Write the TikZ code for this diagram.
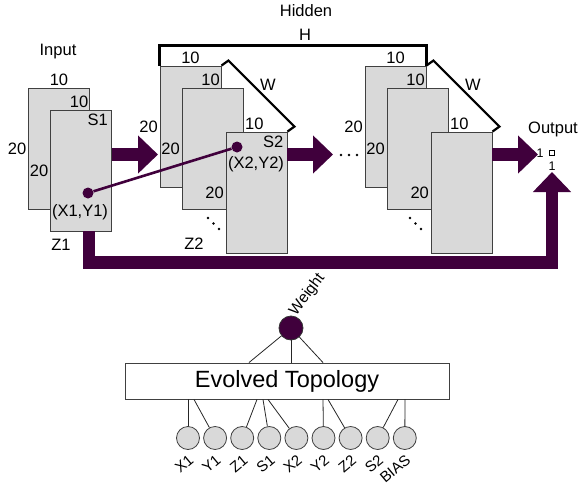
\documentclass[tikz,border=0pt]{standalone}
\usepackage{fontspec}
\setmainfont{Liberation Sans}
\usetikzlibrary{arrows.meta,positioning}
\definecolor{plum}{HTML}{40003C}
\definecolor{sheet}{HTML}{D9D9D9}

\begin{document}
\begin{tikzpicture}[x=1pt, y=-1pt,
	every node/.style={font=\fontsize{16.5}{18}\selectfont, inner sep=1.5pt},
	panel/.style={draw=black!75, fill=sheet, line width=0.9pt, minimum width=61pt, minimum height=121pt, inner sep=0pt},
	fatarrow/.style={draw=plum, line width=12.5pt, line join=miter, -{Triangle[length=20pt,width=37pt]}},
	bracket/.style={line width=2.2pt, line join=miter},
	feat/.style={circle, draw=black!75, fill=sheet, line width=0.8pt, minimum size=23pt, inner sep=0pt},
	tag/.style={font=\fontsize{15}{16}\selectfont, rotate=40, anchor=north east, inner sep=0.5pt},
	wire/.style={line width=0.8pt, black!85}]
	\useasboundingbox (0,0) rectangle (579,485);
	
	% 1. input and hidden sheets
	\node[panel] (in1) at (59,148.5) {};
	\node[panel] (in2) at (81,170.5) {};
	\node[panel] (h1) at (190.5,126.5) {};
	\node[panel] (h2) at (212.5,148.5) {};
	\node[panel] (h3) at (256.5,192.5) {};
	\node[panel] (g1) at (395.5,126.5) {};
	\node[panel] (g2) at (417.5,148.5) {};
	\node[panel] (g3) at (461.5,192.5) {};
	
	% 2. thick arrows
	\coordinate (a1) at (158,154.5);
	\coordinate (a2) at (333,154.5);
	\coordinate (a3) at (538,154.5);
	\coordinate (fb) at (552,172);
	\draw[fatarrow] (in2.east |- a1) -- (a1);
	\draw[fatarrow] (h3.east |- a2) -- (a2);
	\draw[fatarrow] (g3.east |- a3) -- (a3);
	\draw[fatarrow] ([xshift=8pt]in2.south) -- ++(0,31) -| (fb);
	
	% 3. brackets H and W
	\draw[bracket] (h1.north west) -- ++(0,-20) -| (g1.north east);
	\draw[bracket] (h1.north east) -- ++(7,-5) -- ([shift={(7,-5)}]h3.north east) -- (h3.north east);
	\draw[bracket] (g1.north east) -- ++(7,-5) -- ([shift={(7,-5)}]g3.north east) -- (g3.north east);
	
	% 4. link between the two neurons
	\node[circle, fill=plum, minimum size=11pt, inner sep=0pt] (p1) at (88,193) {};
	\node[circle, fill=plum, minimum size=11pt, inner sep=0pt] (p2) at (237,147) {};
	\draw[plum, line width=2.6pt] (p1) -- (p2);
	
	% 5. titles
	\node at (58,52) {Input};
	\node at (306,11) {Hidden};
	\node at (305,35) {H};
	\node at (553,129) {Output};
	\node at (268,85) {W};
	\node at (473,85) {W};
	
	% 6. sizes and names
	\node[above] at (in1.north) {10};
	\node[anchor=south east] at (in1.east |- in2.north) {10};
	\node[left] at (in1.west) {20};
	\node[left] at (in2.west) {20};
	\node[anchor=north east, inner sep=4pt] at (in2.north east) {S1};
	\node at (80,212) {(X1,Y1)};
	\node at (61,245) {Z1};
	
	\node[above] at (h1.north) {10};
	\node[anchor=south east] at (h1.east |- h2.north) {10};
	\node[anchor=south west] at (h2.east |- h3.north) {10};
	\node[left] at (h1.west) {20};
	\node[left] at (h2.west) {20};
	\node[left] at (h3.west) {20};
	\node[anchor=north east, inner sep=4pt] at (h3.north east) {S2};
	\node at (256,164) {(X2,Y2)};
	\node at (194,244) {Z2};
	
	\node[above] at (g1.north) {10};
	\node[anchor=south east] at (g1.east |- g2.north) {10};
	\node[anchor=south west] at (g2.east |- g3.north) {10};
	\node[left] at (g1.west) {20};
	\node[left] at (g2.west) {20};
	\node[left] at (g3.west) {20};
	
	% 7. dots
	\foreach \x in {341,349,357} \fill (\x,155) circle (1.4);
	\foreach \dx in {0,5.5,11} {
		\fill ({208+\dx},{218+\dx}) circle (1.3);
		\fill ({410+\dx},{218+\dx}) circle (1.3);
	}
	
	% 8. output cell
	\node[font=\fontsize{12.5}{13}\selectfont] at (540,153) {1};
	\draw[line width=0.7pt] (549.5,150.5) rectangle (554.5,155.5);
	\node[font=\fontsize{12.5}{13}\selectfont] at (552,166) {1};
	
	% 9. evolved topology
	\node[circle, fill=plum, draw=black!80, line width=0.8pt, minimum size=24pt, inner sep=0pt] (wt) at (291,328) {};
	\node[rotate=53, anchor=south west, inner sep=0.5pt, font=\fontsize{15.5}{16}\selectfont] at ([xshift=-1pt]wt.north east) {Weight};
	\node[draw=black!75, line width=0.9pt, minimum width=324pt, minimum height=36pt, font=\fontsize{23.5}{26}\selectfont] (topo) at (287,381) {Evolved Topology};
	\foreach \dx in {-38,4,36} \draw[wire] (wt) -- ([xshift=\dx pt]topo.north);
	
	\foreach \name [count=\i from 0] in {X1,Y1,Z1,S1,X2,Y2,Z2,S2,BIAS} {
		\node[feat] (f\i) at ({188+27.1*\i},438) {};
		\node[tag] at ([yshift=-3pt]f\i.south) {\name};
	}
	\foreach \i/\dx in {0/-99,1/-93,2/-30,3/-24,4/-19,5/36,6/41,7/111,8/118}
		\draw[wire] (f\i) -- ([xshift=\dx pt]topo.south);
\end{tikzpicture}
\end{document}
